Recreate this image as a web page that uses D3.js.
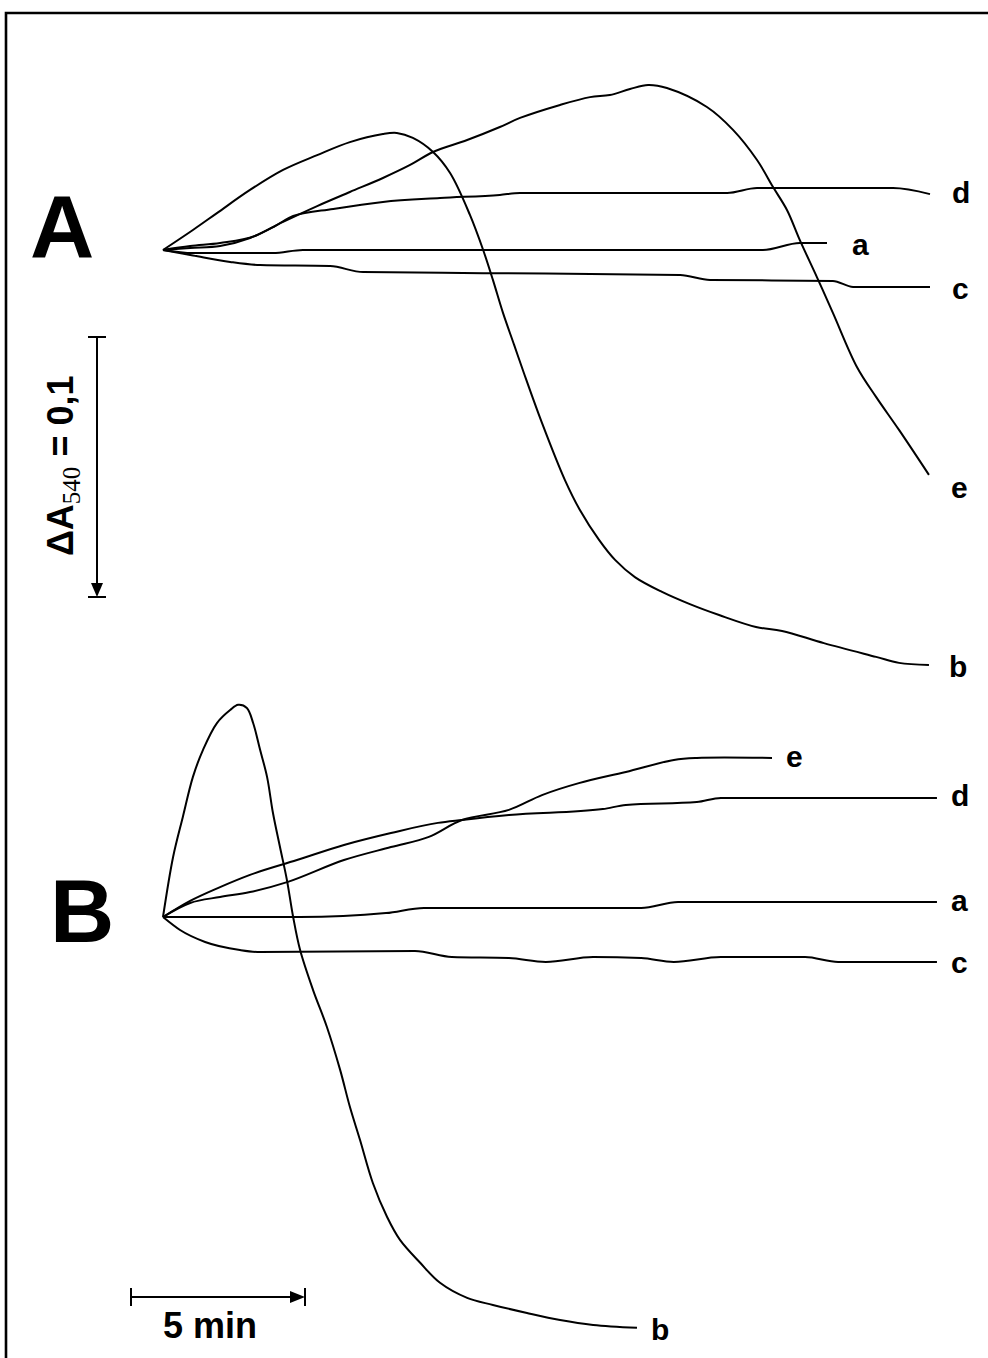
<!DOCTYPE html>
<html>
<head>
<meta charset="utf-8">
<script src="https://cdn.jsdelivr.net/npm/d3@7"></script>
<style>
  body { margin: 0; background: #fff; }
  svg { display: block; }
  text { font-family: "Liberation Sans", Arial, sans-serif; font-weight: bold; fill: #000; }
</style>
</head>
<body>
<div id="chart"></div>
<script>
// time in min, value = change of A540 from start of the trace
const aA = [[0,0],[0.86,-0.0012],[3.16,-0.0012],[4.02,0],[17.24,0],[18.30,0.0027],[19.08,0.0027]];
const bA = [[0,0],[0.86,0.0077],[1.55,0.0142],[2.50,0.0231],[3.45,0.0308],[4.43,0.0365],[5.37,0.0415],[6.32,0.0446],[6.72,0.0450],[7.18,0.0431],[7.76,0.0377],[8.25,0.0296],[8.82,0.0135],[9.20,0],[9.48,-0.0115],[9.77,-0.0242],[10.09,-0.0365],[10.37,-0.0473],[10.89,-0.0665],[11.55,-0.0885],[11.98,-0.1000],[12.53,-0.1115],[12.99,-0.1192],[13.56,-0.1258],[14.34,-0.1315],[15.14,-0.1362],[15.98,-0.1404],[17.04,-0.1450],[17.79,-0.1465],[18.99,-0.1512],[20.49,-0.1565],[21.15,-0.1588],[22.01,-0.1596]];
const cA = [[0,0],[0.86,-0.0021],[1.93,-0.0046],[2.79,-0.0058],[4.80,-0.0062],[5.75,-0.0085],[9.20,-0.0089],[14.86,-0.0096],[15.72,-0.0115],[19.25,-0.0119],[19.83,-0.0142],[22.04,-0.0142]];
const dA = [[0,0],[0.78,0.0015],[1.64,0.0027],[2.64,0.0054],[3.22,0.0092],[3.74,0.0131],[4.89,0.0158],[6.32,0.0185],[7.96,0.0200],[9.68,0.0212],[10.26,0.0219],[16.21,0.0219],[17.07,0.0238],[20.98,0.0238],[22.04,0.0215]];
const eA = [[0,0],[0.78,0.0008],[1.64,0.0015],[2.50,0.0046],[3.45,0.0108],[4.43,0.0169],[5.37,0.0223],[6.32,0.0277],[7.10,0.0327],[7.76,0.0377],[8.74,0.0423],[9.68,0.0473],[10.26,0.0508],[11.41,0.0558],[12.27,0.0588],[12.84,0.0596],[13.42,0.0619],[13.94,0.0635],[14.48,0.0623],[15.63,0.0550],[16.38,0.0462],[17.07,0.0346],[17.53,0.0242],[17.93,0.0154],[18.30,0.0038],[18.79,-0.0104],[19.25,-0.0242],[19.94,-0.0450],[20.49,-0.0565],[21.15,-0.0692],[22.01,-0.0865]];

const aB = [[0,0],[3.94,0],[6.41,0.0015],[7.50,0.0035],[13.74,0.0035],[14.80,0.0058],[22.24,0.0058]];
const bB = [[0,0],[0.29,0.0231],[0.57,0.0385],[0.86,0.0539],[1.15,0.0643],[1.55,0.0746],[1.93,0.0796],[2.16,0.0816],[2.41,0.0804],[2.59,0.0746],[2.79,0.0643],[2.99,0.0539],[3.16,0.0400],[3.36,0.0270],[3.56,0.0143],[3.74,0],[3.94,-0.0127],[4.31,-0.0280],[4.71,-0.0423],[5.09,-0.0588],[5.37,-0.0730],[5.66,-0.0857],[6.03,-0.1023],[6.44,-0.1154],[6.81,-0.1242],[7.39,-0.1330],[7.96,-0.1407],[8.74,-0.1465],[9.48,-0.1492],[10.46,-0.1523],[11.41,-0.1550],[12.36,-0.1569],[13.62,-0.1580]];
const cB = [[0,0],[0.49,-0.0050],[1.21,-0.0096],[2.21,-0.0127],[2.79,-0.0135],[7.24,-0.0131],[8.30,-0.0154],[9.94,-0.0158],[11.00,-0.0173],[12.36,-0.0154],[13.74,-0.0158],[14.68,-0.0173],[16.03,-0.0154],[18.45,-0.0154],[19.40,-0.0173],[22.24,-0.0173]];
const dB = [[0,0],[0.78,0.0062],[1.64,0.0115],[2.50,0.0162],[3.85,0.0219],[5.20,0.0277],[6.55,0.0323],[7.90,0.0362],[8.59,0.0373],[9.94,0.0392],[12.64,0.0415],[13.30,0.0431],[15.34,0.0442],[16.03,0.0458],[22.24,0.0458]];
const eB = [[0,0],[0.78,0.0054],[1.64,0.0077],[2.50,0.0096],[3.59,0.0135],[5.20,0.0219],[6.55,0.0269],[7.64,0.0308],[8.59,0.0373],[9.94,0.0412],[10.89,0.0469],[11.95,0.0515],[13.30,0.0558],[14.68,0.0604],[15.34,0.0612],[17.50,0.0612]];

const panels = ["A", "B"];
const traceNames = ["a", "b", "c", "d", "e"];
const scaleMinutes = 5;
const scaleAbs = 0.1;

const width = 988, height = 1358;
const pxPerMin = 34.8, pxPerAbs = 2600;

const x = d3.scaleLinear().domain([0, 1]).range([163, 163 + pxPerMin]);
const yA = d3.scaleLinear().domain([0, 0.1]).range([250, 250 - 0.1 * pxPerAbs]);
const yB = d3.scaleLinear().domain([0, 0.1]).range([917, 917 - 0.1 * pxPerAbs]);

// smooth traces (b, e) vs. nearly flat traces with small steps (a, c, d)
const curves = {
  a: d3.curveMonotoneX, b: d3.curveCatmullRom.alpha(0.5), c: d3.curveMonotoneX,
  d: d3.curveMonotoneX, e: d3.curveCatmullRom.alpha(0.5)
};

const svg = d3.select("#chart").append("svg")
  .attr("width", width).attr("height", height);

svg.append("rect").attr("width", width).attr("height", height).attr("fill", "#fff");

// frame (only top and left edges show)
svg.append("path")
  .attr("d", `M6,${height + 5} V13 H${width + 5}`)
  .attr("fill", "none").attr("stroke", "#000").attr("stroke-width", 2.6);

const panelData = {
  A: { y: yA, traces: [aA, bA, cA, dA, eA],
       labels: { a: [25, 2], b: [20, 2], c: [22, 2], d: [22, -2], e: [22, 13] },
       title: [30, 258] },
  B: { y: yB, traces: [aB, bB, cB, dB, eB],
       labels: { a: [14, -1], b: [14, 2], c: [14, 1], d: [14, -2], e: [14, -1] },
       title: [50, 942] }
};

panels.forEach((p) => {
  const cfg = panelData[p];
  const g = svg.append("g");

  g.selectAll("path")
    .data(cfg.traces)
    .join("path")
    .attr("d", (d, i) => d3.line()
      .x((v) => x(v[0]))
      .y((v) => cfg.y(v[1]))
      .curve(curves[traceNames[i]])(d))
    .attr("fill", "none")
    .attr("stroke", "#000")
    .attr("stroke-width", 2)
    .attr("stroke-linejoin", "round");

  g.selectAll("text.lab")
    .data(cfg.traces)
    .join("text")
    .attr("class", "lab")
    .attr("x", (d, i) => x(d[d.length - 1][0]) + cfg.labels[traceNames[i]][0])
    .attr("y", (d, i) => cfg.y(d[d.length - 1][1]) + cfg.labels[traceNames[i]][1])
    .attr("dominant-baseline", "central")
    .attr("font-size", 30)
    .text((d, i) => traceNames[i]);

  svg.append("text")
    .attr("x", cfg.title[0]).attr("y", cfg.title[1])
    .attr("font-size", 89)
    .text(p);
});

// vertical scale bar: 0.1 absorbance
const vTop = 337;
const vLen = yA(0) - yA(scaleAbs);
const vx = 97;
const bar = svg.append("g").attr("stroke", "#000").attr("stroke-width", 2);
bar.append("line").attr("x1", vx).attr("x2", vx).attr("y1", vTop).attr("y2", vTop + vLen - 4);
bar.append("line").attr("x1", vx - 9).attr("x2", vx + 9).attr("y1", vTop).attr("y2", vTop);
bar.append("line").attr("x1", vx - 9).attr("x2", vx + 9).attr("y1", vTop + vLen).attr("y2", vTop + vLen);
svg.append("path")
  .attr("d", `M${vx - 6},${vTop + vLen - 14} L${vx + 6},${vTop + vLen - 14} L${vx},${vTop + vLen} Z`)
  .attr("fill", "#000");

const vlab = svg.append("text")
  .attr("transform", `translate(73,556) rotate(-90)`)
  .attr("font-size", 36);
vlab.append("tspan").text("ΔA");
vlab.append("tspan")
  .attr("dy", 7)
  .style("font-family", "'Liberation Serif', 'Times New Roman', serif")
  .style("font-weight", "normal")
  .attr("font-size", 25)
  .text("540");
vlab.append("tspan").attr("dy", -7).text(" = 0,1");

// horizontal scale bar: 5 min
const hLeft = 131;
const hLen = x(scaleMinutes) - x(0);
const hy = 1297;
const hbar = svg.append("g").attr("stroke", "#000").attr("stroke-width", 2);
hbar.append("line").attr("x1", hLeft).attr("x2", hLeft + hLen - 4).attr("y1", hy).attr("y2", hy);
hbar.append("line").attr("x1", hLeft).attr("x2", hLeft).attr("y1", hy - 9).attr("y2", hy + 9);
hbar.append("line").attr("x1", hLeft + hLen).attr("x2", hLeft + hLen).attr("y1", hy - 9).attr("y2", hy + 9);
svg.append("path")
  .attr("d", `M${hLeft + hLen - 15},${hy - 6} L${hLeft + hLen - 15},${hy + 6} L${hLeft + hLen},${hy} Z`)
  .attr("fill", "#000");

svg.append("text")
  .attr("x", 163).attr("y", 1338)
  .attr("font-size", 36)
  .text(`${scaleMinutes} min`);
</script>
</body>
</html>
